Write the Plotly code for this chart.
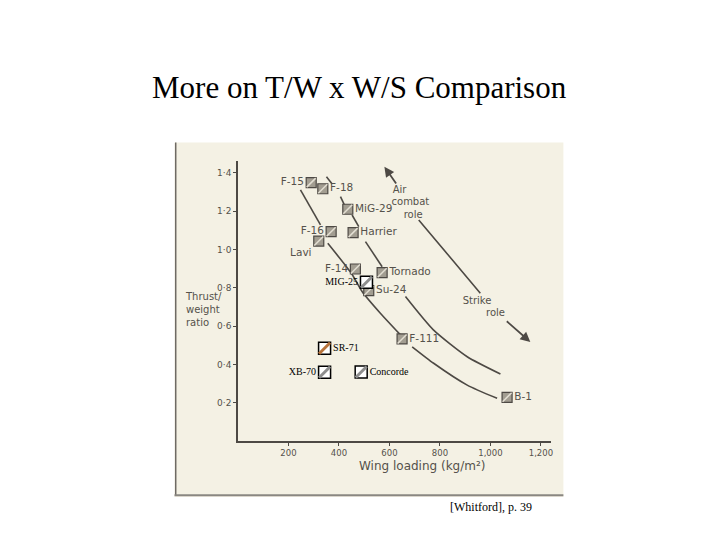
import plotly.graph_objects as go

# ---------------- data ----------------
hand_names = ["F-15", "F-18", "MiG-29", "F-16", "Harrier", "Lavi", "F-14",
              "Tornado", "Su-24", "F-111", "B-1"]
hand_wl = [290, 336, 435, 369, 456, 320, 465, 571, 518, 650, 1066]
hand_tw = [1.349, 1.317, 1.21, 1.093, 1.088, 1.044, 0.898, 0.879, 0.785, 0.533, 0.228]
hand_pos = ["middle left", "middle right", "middle right", "middle left", "middle right",
            "bottom left", "middle left", "middle right", "middle right", "middle right",
            "middle right"]

typed_names = ["MIG-25", "SR-71", "XB-70", "Concorde"]
typed_wl = [509, 343, 343, 488]
typed_tw = [0.829, 0.484, 0.359, 0.360]
typed_pos = ["middle left", "middle right", "middle left", "middle right"]
typed_stripe = ["#8e8e8e", "#b8743c", "#8e8e8e", "#8e8e8e"]

# hand-drawn trend curves (None = gap in the drawn line)
curve_a_wl = [247.5, 326.7, None, 355.6, 419, 453.5, 493, 564, 643.6, None, 690, 775, 908, 1026.5]
curve_a_tw = [1.311, 1.128, None, 1.032, 0.928, 0.867, 0.778, 0.667, 0.554, None, 0.492, 0.406, 0.292, 0.223]
curve_b_wl = [350.5, 373, None, 406, 421.8, None, 452, 478.4, None, 505, 571, None, 663.4, 774, 908, 1039.6]
curve_b_tw = [1.380, 1.342, None, 1.276, 1.232, None, 1.180, 1.119, None, 1.041, 0.910, None, 0.754, 0.580, 0.440, 0.350]
curve_c_wl = [716, 849.5, 960]
curve_c_tw = [1.154, 0.945, 0.771]

# role arrows: (tip, tail)
air_arrow = [(580, 1.432), (630.5, 1.337)]
strike_arrow = [(1158, 0.517), (1059, 0.632)]
role_texts = ["Air", "combat", "role", "Strike", "role"]
role_wl = [640, 683, 694, 947, 1020]
role_tw = [1.310, 1.243, 1.176, 0.730, 0.664]

x_ticks = [200, 400, 600, 800, 1000, 1200]
x_ticktext = ["200", "400", "600", "800", "1,000", "1,200"]
y_ticks = [0.2, 0.4, 0.6, 0.8, 1.0, 1.2, 1.4]
y_ticktext = ["0·2", "0·4", "0·6", "0·8", "1·0", "1·2", "1·4"]

# ---------------- styles ----------------
INK = "#4d4944"
CREAM = "#f4f1e4"
HAND_FONT = "DejaVu Sans"
HAND_COLOR = "#55514b"

fig = go.Figure()

for wl, tw in [(curve_a_wl, curve_a_tw), (curve_b_wl, curve_b_tw), (curve_c_wl, curve_c_tw)]:
    fig.add_trace(go.Scatter(x=wl, y=tw, mode="lines", connectgaps=False,
                             line=dict(color=INK, width=1.6, shape="spline", smoothing=0.6),
                             hoverinfo="skip", showlegend=False))

# hand-drawn hatched boxes
fig.add_trace(go.Scatter(x=hand_wl, y=hand_tw, mode="markers+text", text=hand_names,
                         textposition=hand_pos,
                         textfont=dict(family=HAND_FONT, size=10.5, color=HAND_COLOR),
                         marker=dict(symbol="square", size=10, color="#a29d91",
                                     line=dict(color=INK, width=1.2)),
                         showlegend=False))
fig.add_trace(go.Scatter(x=hand_wl, y=hand_tw, mode="markers",
                         marker=dict(symbol="line-ne", size=9,
                                     line=dict(color="#e2ded2", width=1.5)),
                         hoverinfo="skip", showlegend=False))

# typed boxes
fig.add_trace(go.Scatter(x=typed_wl, y=typed_tw, mode="markers+text", text=typed_names,
                         textposition=typed_pos,
                         textfont=dict(family="Liberation Serif", size=10, color="black"),
                         marker=dict(symbol="square", size=12, color="white",
                                     line=dict(color="black", width=1.5)),
                         showlegend=False))
fig.add_trace(go.Scatter(x=typed_wl, y=typed_tw, mode="markers",
                         marker=dict(symbol="line-ne", size=11,
                                     line=dict(color=typed_stripe, width=3)),
                         hoverinfo="skip", showlegend=False))

# role labels
fig.add_trace(go.Scatter(x=role_wl, y=role_tw, mode="text", text=role_texts,
                         textfont=dict(family=HAND_FONT, size=10, color=HAND_COLOR),
                         hoverinfo="skip", showlegend=False))

annotations = []
for tip, tail in [air_arrow, strike_arrow]:
    annotations.append(dict(x=tip[0], y=tip[1], ax=tail[0], ay=tail[1],
                            xref="x", yref="y", axref="x", ayref="y", text="",
                            showarrow=True, arrowhead=2, arrowsize=1.1,
                            arrowwidth=1.8, arrowcolor=INK))

annotations += [
    dict(text="More on T/W x W/S Comparison", xref="paper", yref="paper",
         x=0.388, y=1.262, showarrow=False, xanchor="center", yanchor="middle",
         font=dict(family="Liberation Serif", size=31, color="black")),
    dict(text="[Whitford], p. 39", xref="paper", yref="paper",
         x=0.8096, y=-0.2357, showarrow=False, xanchor="center", yanchor="middle",
         font=dict(family="Liberation Serif", size=12, color="black")),
    dict(text="Wing loading (kg/m²)", xref="paper", yref="paper",
         x=0.589, y=-0.088, showarrow=False, xanchor="center", yanchor="middle",
         font=dict(family=HAND_FONT, size=12, color=HAND_COLOR)),
    dict(text="Thrust/<br>weight<br>ratio", xref="paper", yref="paper",
         x=-0.176, y=0.468, showarrow=False, xanchor="left", yanchor="middle",
         align="left", font=dict(family=HAND_FONT, size=10, color=HAND_COLOR)),
]

shapes = [
    dict(type="rect", xref="paper", yref="paper", x0=-0.2028, x1=1.0396,
         y0=-0.2003, y1=1.0658, fillcolor=CREAM, line=dict(width=0), layer="below"),
    dict(type="line", xref="paper", yref="paper", x0=-0.199, x1=-0.199,
         y0=-0.196, y1=1.0658, line=dict(color="#6e6a64", width=1.5), layer="below"),
    dict(type="line", xref="paper", yref="paper", x0=-0.2028, x1=1.0396,
         y0=-0.194, y1=-0.194, line=dict(color="#8a8782", width=2), layer="below"),
]

# page body adds an 8px offset, so margins are shifted up/left by 8px
fig.update_layout(
    width=720, height=540,
    margin=dict(l=229.5, r=177.4, t=153, b=107, pad=0),
    paper_bgcolor="white", plot_bgcolor=CREAM,
    annotations=annotations, shapes=shapes,
    showlegend=False,
    xaxis=dict(range=[0, 1240], tickvals=x_ticks, ticktext=x_ticktext,
               showgrid=False, zeroline=False, showline=True, linecolor=INK,
               linewidth=1.5, ticks="outside", ticklen=3, tickcolor=INK,
               tickfont=dict(family=HAND_FONT, size=8.5, color=HAND_COLOR)),
    yaxis=dict(range=[0, 1.462], tickvals=y_ticks, ticktext=y_ticktext,
               showgrid=False, zeroline=False, showline=True, linecolor=INK,
               linewidth=1.5, ticks="outside", ticklen=3, tickcolor=INK,
               tickfont=dict(family=HAND_FONT, size=9, color=HAND_COLOR)),
)

fig.write_html("out.html")
